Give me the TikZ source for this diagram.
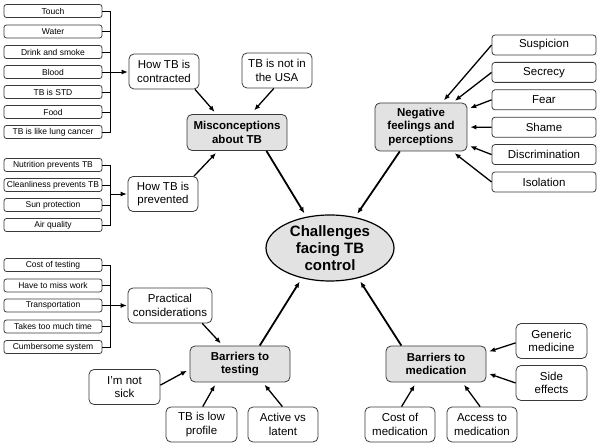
\documentclass[tikz,border=0pt]{standalone}
\usepackage{fontspec}
\setmainfont{Liberation Sans}
\usetikzlibrary{shapes.geometric}
\usetikzlibrary{arrows.meta}
\definecolor{boxgray}{HTML}{E2E2E2}
\definecolor{edgegray}{HTML}{3A3A3A}
\tikzset{
  item/.style={draw=edgegray, line width=0.8pt, rounded corners=2.5pt, minimum width=98, minimum height=13, inner sep=0pt, font=\fontsize{8.5}{10}\selectfont},
  side/.style={draw=edgegray, line width=0.8pt, rounded corners=3pt, minimum width=104, minimum height=20, inner sep=0pt, font=\fontsize{11.5}{13.5}\selectfont},
  leaf/.style={draw=edgegray, line width=0.8pt, rounded corners=5pt, minimum width=70, minimum height=35, inner sep=0pt, align=center, font=\fontsize{11.5}{13.5}\selectfont},
  theme/.style={leaf, fill=boxgray, minimum width=100, minimum height=36, font=\fontsize{11.5}{13.5}\selectfont\bfseries},
  hub/.style={draw=black, line width=1.2pt, ellipse, fill=boxgray, minimum width=128, minimum height=66, inner sep=0pt, align=center, font=\fontsize{15}{17}\selectfont\bfseries},
  link/.style={->, line width=1.3pt, shorten >=3pt},
  biglink/.style={->, line width=1.8pt, shorten >=4pt},
  brace/.style={line width=0.8pt},
}
\begin{document}
\begin{tikzpicture}[x=1pt, y=-1pt, >={Latex[length=6pt,width=5pt]}]
    \useasboundingbox (0,0) rectangle (600,446);
    \node[hub] (C0) at (330,248) {Challenges\\facing TB\\control};
    \node[theme] (M0) at (237,132.5) {Misconceptions\\about TB};
    \node[leaf] (M1) at (164,71.5) {How TB is\\contracted};
    \node[leaf] (M2) at (277,70.5) {TB is not in\\the USA};
    \node[leaf] (M3) at (163,194) {How TB is\\prevented};
    \node[item] (K1) at (53,11) {Touch};
    \node[item] (K2) at (53,31.5) {Water};
    \node[item] (K3) at (53,52) {Drink and smoke};
    \node[item] (K4) at (53,72) {Blood};
    \node[item] (K5) at (53,92) {TB is STD};
    \node[item] (K6) at (53,112) {Food};
    \node[item] (K7) at (53,132) {TB is like lung cancer};
    \coordinate (X1) at (110,72);
    \node[item] (P1) at (53,165) {Nutrition prevents TB};
    \node[item] (P2) at (53,185) {Cleanliness prevents TB};
    \node[item] (P3) at (53,205) {Sun protection};
    \node[item] (P4) at (53,225) {Air quality};
    \coordinate (X2) at (110,194);
    \node[theme, minimum width=92, minimum height=48] (N0) at (421,127) {Negative\\feelings and\\perceptions};
    \node[side] (N1) at (544,45) {Suspicion};
    \node[side] (N2) at (544,72.4) {Secrecy};
    \node[side] (N3) at (544,99.8) {Fear};
    \node[side] (N4) at (544,127.2) {Shame};
    \node[side] (N5) at (544,154.6) {Discrimination};
    \node[side] (N6) at (544,182) {Isolation};
    \node[theme] (T0) at (240,364) {Barriers to\\testing};
    \node[leaf, minimum width=84] (T1) at (170,305.5) {Practical\\considerations};
    \node[leaf, minimum width=71] (T2) at (124.5,387) {I'm not\\sick};
    \node[leaf, minimum width=71] (T3) at (201.5,424.5) {TB is low\\profile};
    \node[leaf] (T4) at (283,424.5) {Active vs\\latent};
    \node[item] (Q1) at (53,265) {Cost of testing};
    \node[item] (Q2) at (53,285.5) {Have to miss work};
    \node[item] (Q3) at (53,305.5) {Transportation};
    \node[item] (Q4) at (53,326.5) {Takes too much time};
    \node[item] (Q5) at (53,347) {Cumbersome system};
    \coordinate (X3) at (110,305.5);
    \node[theme] (D0) at (436,364) {Barriers to\\medication};
    \node[leaf, minimum width=71] (D1) at (551.5,341) {Generic\\medicine};
    \node[leaf, minimum width=71] (D2) at (551.5,383) {Side\\effects};
    \node[leaf] (D3) at (400,424.5) {Cost of\\medication};
    \node[leaf] (D4) at (482,424.5) {Access to\\medication};
    \draw[brace] (K1.east) -- (K1.east -| X1) -- (K7.east -| X1) -- (K7.east);
    \draw[brace] (K2.east) -- (K2.east -| X1);
    \draw[brace] (K3.east) -- (K3.east -| X1);
    \draw[brace] (K4.east) -- (K4.east -| X1);
    \draw[brace] (K5.east) -- (K5.east -| X1);
    \draw[brace] (K6.east) -- (K6.east -| X1);
    \draw[brace, ->, shorten >=1pt] (X1) -- (X1 -| M1.west);
    \draw[brace] (P1.east) -- (P1.east -| X2) -- (P4.east -| X2) -- (P4.east);
    \draw[brace] (P2.east) -- (P2.east -| X2);
    \draw[brace] (P3.east) -- (P3.east -| X2);
    \draw[brace, ->, shorten >=1pt] (X2) -- (X2 -| M3.west);
    \draw[brace] (Q1.east) -- (Q1.east -| X3) -- (Q5.east -| X3) -- (Q5.east);
    \draw[brace] (Q2.east) -- (Q2.east -| X3);
    \draw[brace] (Q3.east) -- (Q3.east -| X3);
    \draw[brace] (Q4.east) -- (Q4.east -| X3);
    \draw[brace, ->, shorten >=1pt] (X3) -- (X3 -| T1.west);
    \draw[link] (M1.-30) -- (M0.138);
    \draw[link, shorten >=5pt] (M2.-100) -- (M0.53);
    \draw[link] (M3.30) -- (M0.-136);
    \draw[link] (N1.west) -- (N0);
    \draw[link] (N2.west) -- (N0);
    \draw[link] (N3.west) -- (N0);
    \draw[link] (N4.west) -- (N0);
    \draw[link] (N5.west) -- (N0);
    \draw[link] (N6.west) -- (N0);
    \draw[link] (T1.-29) -- (T0.133);
    \draw[link] (T2.3) -- (T0.186);
    \draw[link] (T3.86) -- (T0.-142);
    \draw[link] (T4.92) -- (T0.-39);
    \draw[link] (D1.183) -- (D0.13);
    \draw[link] (D2.180) -- (D0.-10);
    \draw[link] (D3.85) -- (D0.-137);
    \draw[link] (D4.96) -- (D0.-35);
    \draw[biglink] (M0.-32) -- (C0.127);
    \draw[biglink] (N0.-131) -- (C0.51);
    \draw[biglink] (T0.43) -- (C0.-133);
    \draw[biglink] (D0.152) -- (C0.-47);
\end{tikzpicture}
\end{document}
